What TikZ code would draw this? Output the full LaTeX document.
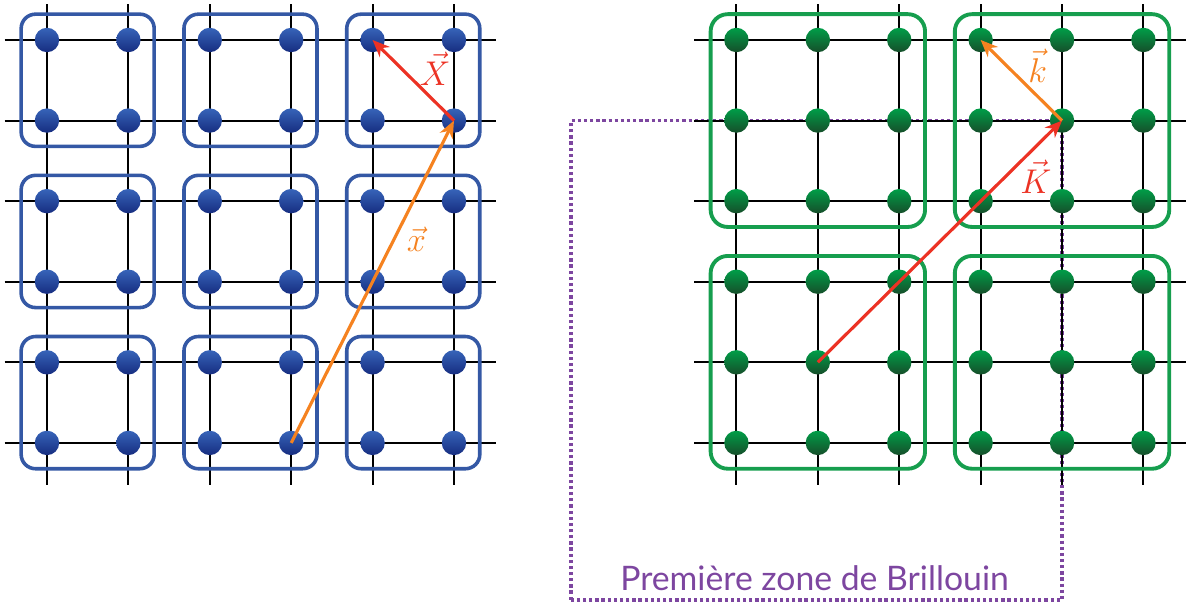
\documentclass[tikz,border=0pt]{standalone}
\usepackage{fontspec}
\newfontfamily\legende{Lato}
\usetikzlibrary{positioning, arrows.meta, calc, fit, backgrounds}
\definecolor{ReseauBleu}{RGB}{52,88,165}
\definecolor{BouleBleuH}{RGB}{55,100,185}
\definecolor{BouleBleuB}{RGB}{22,45,128}
\definecolor{ReseauVert}{RGB}{22,158,78}
\definecolor{BouleVertH}{RGB}{0,158,72}
\definecolor{BouleVertB}{RGB}{22,78,42}
\definecolor{FlecheOrange}{RGB}{245,130,32}
\definecolor{FlecheRouge}{RGB}{236,50,36}
\definecolor{ZoneViolet}{RGB}{125,70,160}

\begin{document}
\begin{tikzpicture}[y=0.99cm, >={Stealth[length=6pt, width=5pt]},
  grille/.style={black, line width=0.7pt},
  bleu/.style={circle, inner sep=0pt, minimum size=0.3cm, top color=BouleBleuH, bottom color=BouleBleuB},
  vert/.style={circle, inner sep=0pt, minimum size=0.3cm, top color=BouleVertH, bottom color=BouleVertB},
  boiteb/.style={draw=ReseauBleu, line width=1.25pt, rounded corners=5pt, inner sep=0.16cm},
  boitev/.style={draw=ReseauVert, line width=1.35pt, rounded corners=6pt, inner sep=0.16cm},
  vecteur/.style={->, line width=1.1pt}]
  \useasboundingbox (-0.577,-2.06) rectangle (14.005,5.496);

  % reseau direct
  \foreach \i in {0,...,5} {
    \draw[grille] (-0.52,\i) -- (5.52,\i);
    \draw[grille] (\i,-0.52) -- (\i,5.45);
  }
  \foreach \i in {0,...,5}
    \foreach \j in {0,...,5}
      \node[bleu] (b-\i-\j) at (\i,\j) {};
  \foreach \i/\ii in {0/1,2/3,4/5}
    \foreach \j/\jj in {0/1,2/3,4/5}
      \node[boiteb, fit=(b-\i-\j)(b-\ii-\jj)] (cb-\i-\j) {};

  % reseau reciproque
  \begin{scope}[xshift=8.47cm]
    \foreach \i in {0,...,5} {
      \draw[grille] (-0.52,\i) -- (5.52,\i);
      \draw[grille] (\i,-0.52) -- (\i,5.45);
    }
    \foreach \i in {0,...,5}
      \foreach \j in {0,...,5}
        \node[vert] (g-\i-\j) at (\i,\j) {};
    \foreach \i/\ii in {0/2,3/5}
      \foreach \j/\jj in {0/2,3/5}
        \node[boitev, fit=(g-\i-\j)(g-\ii-\jj)] (cv-\i-\j) {};
  \end{scope}

  % premiere zone
  \coordinate (zone) at (6.44,-1.948);
  \begin{scope}[on background layer]
    \draw[ZoneViolet, line width=1.2pt, dash pattern=on 1.15pt off 1pt] (zone) rectangle (g-4-4.center);
  \end{scope}
  \node[text=ZoneViolet, font=\legende\fontsize{11.8}{14}\selectfont] (titre) at (9.43,-1.68) {Première zone de Brillouin};

  % vecteurs
  \draw[vecteur, FlecheOrange] (b-3-0.center) -- (b-5-4.center);
  \draw[vecteur, FlecheRouge] (b-5-4.center) -- (b-4-5.center);
  \node[text=FlecheRouge, font=\large] (lX) at (4.77,4.64) {$\vec{X}$};
  \node[text=FlecheOrange, font=\large] (lx) at (4.54,2.53) {$\vec{x}$};
  \draw[vecteur, FlecheRouge] (g-1-1.center) -- (g-4-4.center);
  \draw[vecteur, FlecheOrange] (g-4-4.center) -- (g-3-5.center);
  \node[text=FlecheOrange, font=\large] (lk) at (12.17,4.68) {$\vec{k}$};
  \node[text=FlecheRouge, font=\large] (lK) at (12.15,3.3) {$\vec{K}$};
\end{tikzpicture}
\end{document}
